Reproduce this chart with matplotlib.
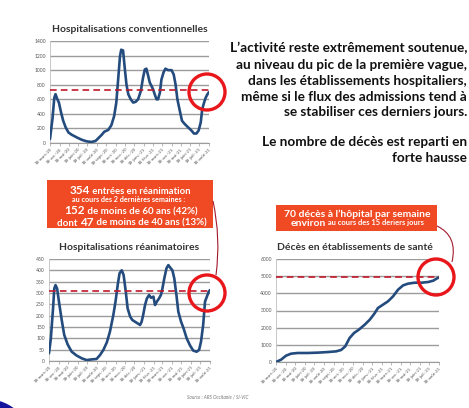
import matplotlib
matplotlib.use("Agg")
import matplotlib.pyplot as plt
from matplotlib.patches import Circle, Rectangle, PathPatch
from matplotlib.path import Path
from matplotlib.offsetbox import TextArea, HPacker, AnnotationBbox
import pandas as pd
import numpy as np

# ---------------- data ----------------
start_date = "2020-03-18"
end_date = "2021-08-18"
month_labels = ["18-mars-20", "18-avr.-20", "18-mai-20", "18-juin-20", "18-juil.-20",
                "18-août-20", "18-sept.-20", "18-oct.-20", "18-nov.-20", "18-déc.-20",
                "18-janv.-21", "18-févr.-21", "18-mars-21", "18-avr.-21", "18-mai-21",
                "18-juin-21", "18-juil.-21", "18-août-21"]

conv_days = [0, 8, 14, 18, 24, 29, 36, 43, 51, 60, 70, 87, 103, 119, 135, 148, 157, 168, 177, 190,
             200, 209, 216, 222, 228, 232, 238, 244, 249, 255, 263, 271, 279, 287, 296, 303, 309, 314,
             320, 325, 331, 336, 341, 347, 352, 358, 363, 370, 376, 385, 396, 403, 409, 415, 423, 430,
             439, 450, 461, 469, 477, 484, 491, 496, 502, 507, 513, 518]
conv_vals = [55, 330, 620, 670, 600, 555, 420, 305, 215, 145, 115, 77, 45, 23, 14, 27, 64, 110, 155, 180,
             245, 370, 555, 870, 1190, 1280, 1270, 1010, 805, 670, 600, 555, 565, 600, 715, 895, 1010, 1020,
             920, 830, 780, 735, 670, 600, 600, 690, 870, 970, 1020, 1000, 1000, 940, 805, 600, 440, 305,
             260, 215, 170, 130, 130, 170, 280, 465, 555, 620, 670, 700]

rea_days = [0, 6, 13, 17, 21, 26, 32, 41, 49, 60, 73, 89, 105, 121, 137, 153, 164, 175, 186, 196,
            207, 214, 221, 227, 234, 240, 247, 253, 261, 268, 277, 285, 293, 298, 303, 309, 315, 322,
            328, 336, 341, 347, 354, 360, 365, 371, 378, 384, 390, 397, 403, 410, 416, 425, 433, 443,
            454, 464, 475, 483, 489, 496, 502, 508, 514, 518]
rea_vals = [34, 100, 232, 320, 335, 320, 262, 180, 115, 73, 41, 24, 12, 4, 7, 9, 26, 49, 82, 129,
            203, 262, 335, 387, 400, 380, 306, 232, 196, 181, 173, 166, 159, 173, 203, 247, 276, 291,
            279, 284, 247, 262, 276, 291, 320, 365, 409, 423, 412, 400, 365, 291, 218, 173, 144, 100,
            68, 46, 41, 49, 85, 159, 262, 284, 306, 313]

deces_days = [0, 16, 32, 48, 69, 101, 133, 165, 191, 207, 220, 234, 248, 263, 282, 298, 312, 324, 340, 356,
              372, 388, 404, 420, 441, 463, 484, 500, 510, 518]
deces_vals = [0, 135, 370, 485, 525, 525, 545, 580, 620, 700, 910, 1400, 1690, 1880, 2175, 2465, 2800, 3145,
              3340, 3535, 3825, 4215, 4465, 4565, 4620, 4620, 4660, 4740, 4855, 4930]

conv_ref = 730
rea_ref = 308
deces_ref = 4970

titles = ["Hospitalisations conventionnelles", "Hospitalisations réanimatoires",
          "Décès en établissements de santé"]

right_text = ["L\u2019activité reste extrêmement soutenue,",
              "au niveau du pic de la première vague,",
              "dans les établissements hospitaliers,",
              "même si le flux des admissions tend à",
              "se stabiliser ces derniers jours."]
right_text2 = ["Le nombre de décès est reparti en", "forte hausse"]

# ---------------- figure ----------------
W, H = 469, 408
plt.rcParams['font.family'] = ['Lato', 'DejaVu Sans']
fig = plt.figure(figsize=(W / 100, H / 100), dpi=100)
fig.patch.set_facecolor('white')

BLUE = '#234b7d'
DRED = '#c0182a'
RED = '#e8171c'
ORANGE = '#ef4a23'

start = pd.Timestamp(start_date)
end = pd.Timestamp(end_date)
tick_dates = pd.date_range(start, periods=len(month_labels), freq=pd.DateOffset(months=1))


def px_axes(left, top, right, bottom):
    return fig.add_axes([left / W, 1 - bottom / H, (right - left) / W, (bottom - top) / H])


def chart(ax, days, vals, ymax, ystep, ref):
    dates = start + pd.to_timedelta(days, unit='D')
    ax.plot(dates, vals, color=BLUE, lw=1.9, solid_capstyle='round', solid_joinstyle='round', zorder=3)
    ax.set_xlim(start, end)
    ax.set_ylim(0, ymax)
    ax.set_yticks(np.arange(0, ymax + 1, ystep))
    ax.yaxis.grid(True, color='#9c9c9c', lw=1.0)
    ax.set_axisbelow(True)
    for s in ['top', 'right']:
        ax.spines[s].set_visible(False)
    ax.spines['left'].set_color('#c0c0c0')
    ax.spines['left'].set_linewidth(0.6)
    ax.spines['bottom'].set_color('#9c9c9c')
    ax.spines['bottom'].set_linewidth(0.8)
    ax.tick_params(axis='y', length=0, labelsize=3.6, labelcolor='#555555', pad=3)
    ax.tick_params(axis='x', length=2, width=0.5, color='#9c9c9c', labelsize=3.2,
                   labelcolor='#555555', pad=1)
    ax.set_xticks(tick_dates)
    ax.set_xticklabels(month_labels, rotation=45, ha='right', rotation_mode='anchor')
    ax.axhline(ref, color=DRED, lw=1.2, ls=(0, (4, 2.5)), zorder=4)
    ax.patch.set_alpha(0)


ax1 = px_axes(50, 41, 209, 143)
chart(ax1, conv_days, conv_vals, 1400, 200, conv_ref)
ax2 = px_axes(49, 259, 210, 361)
chart(ax2, rea_days, rea_vals, 450, 50, rea_ref)
ax3 = px_axes(276, 259, 439, 362)
chart(ax3, deces_days, deces_vals, 6000, 1000, deces_ref)

# ---------------- overlay ----------------
ov = fig.add_axes([0, 0, 1, 1], zorder=10)
ov.set_xlim(0, W)
ov.set_ylim(H, 0)
ov.axis('off')
ov.patch.set_alpha(0)

# titles
ov.text(130, 29, titles[0], ha='center', va='center', fontsize=7.5, fontweight='bold', color='#333333')
ov.text(129, 248, titles[1], ha='center', va='center', fontsize=7.5, fontweight='bold', color='#333333')
ov.text(355, 248, titles[2], ha='center', va='center', fontsize=7.5, fontweight='bold', color='#333333')

# right text
ys = [48, 65, 81, 97, 112]
for y, t in zip(ys, right_text):
    ov.text(467, y, t, ha='right', va='center', fontsize=9.8, fontweight='bold', color='#111111')
for y, t in zip([142, 158], right_text2):
    ov.text(467, y, t, ha='right', va='center', fontsize=9.8, fontweight='bold', color='#111111')

# circles
for (cx, cy) in [(207, 92), (207, 293), (436, 277)]:
    ov.add_patch(Circle((cx, cy), 18, fill=False, ec=RED, lw=2.4))

# orange boxes
ov.add_patch(Rectangle((47, 180), 166, 48, fc=ORANGE, ec='none'))
ov.add_patch(Rectangle((276, 205), 161, 26, fc=ORANGE, ec='none'))


def rich_line(x, y, parts):
    children = [TextArea(t, textprops=dict(fontsize=fs, fontweight='bold', color='white'))
                for t, fs in parts]
    pk = HPacker(children=children, align='baseline', pad=0, sep=0)
    ab = AnnotationBbox(pk, (x, y), xycoords='data', frameon=False, box_alignment=(0.5, 0.5), pad=0)
    ov.add_artist(ab)


rich_line(130, 191, [("354", 8.5), (" entrées en réanimation", 6.8)])
rich_line(129, 200, [("au cours des 2 dernières semaines :", 5.2)])
rich_line(131, 211, [("152", 8.5), (" de moins de 60 ans (42%)", 7.0)])
rich_line(132, 222, [("dont ", 7.0), ("47", 8.5), (" de moins de 40 ans (13%)", 7.0)])

rich_line(357, 214, [("70 décès à l\u2019hôpital par semaine", 7.5)])
rich_line(357, 223, [("environ", 7.5), (" au cours des 15 deriers jours", 5.4)])

# connectors
for verts in [[(213, 201), (221, 238), (216, 275)], [(437, 226), (458, 236), (452, 262)]]:
    ov.add_patch(PathPatch(Path(verts, [Path.MOVETO, Path.CURVE3, Path.CURVE3]),
                           fill=False, ec='#a3192b', lw=0.8))

# source
ov.text(187, 397, "Source : ARS Occitanie / SI-VIC", fontsize=3.4, style='italic',
        color='#777777', va='center')

# blue decorative shape
ov.add_patch(Circle((-14, 446), 47, fc='#14149c', ec='none'))

fig.savefig("out.png", dpi=100)
